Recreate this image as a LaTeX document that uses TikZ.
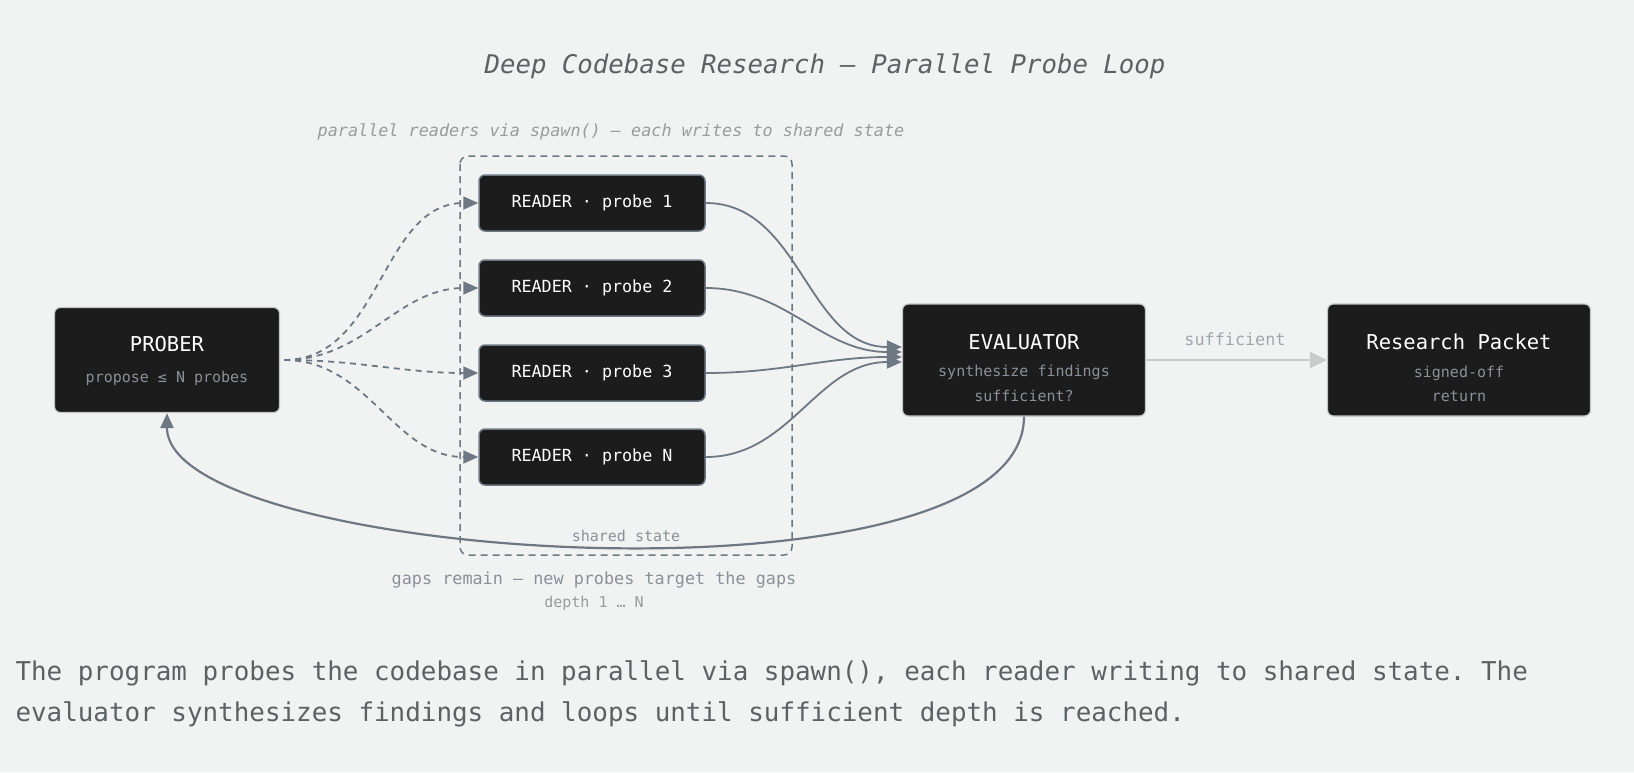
\documentclass[tikz,border=0pt]{standalone}
\usepackage{fontspec}
\setmonofont{DejaVu Sans Mono}
\usetikzlibrary{arrows.meta}
\definecolor{bgc}{HTML}{F1F3F2}
\definecolor{boxc}{HTML}{1C1C1C}
\definecolor{slate}{HTML}{6E7884}
\definecolor{subc}{HTML}{8A9099}
\definecolor{titlec}{HTML}{5E6162}
\definecolor{notec}{HTML}{999C9C}
\definecolor{paleline}{HTML}{C9CCCB}
\definecolor{boxedge}{HTML}{C3C6C6}

\tikzset{
  card/.style={draw=boxedge, line width=1.2pt, fill=boxc, rounded corners=6pt},
  reader/.style={draw=slate, line width=1.5pt, fill=boxc, rounded corners=6pt, minimum width=226, minimum height=56, text=white, font=\ttfamily\fontsize{16.7}{20}\selectfont},
  head/.style={text=white, font=\ttfamily\fontsize{20.5}{24}\selectfont},
  sub/.style={text=subc, font=\ttfamily\fontsize{15}{18}\selectfont},
  note/.style={text=notec, font=\ttfamily\fontsize{16.8}{20}\selectfont},
  probe/.style={draw=slate, line width=1.8pt, dash pattern=on 6pt off 5pt, -{Triangle[length=15pt,width=13pt]}},
  feed/.style={draw=slate, line width=1.8pt, -{Triangle[length=15pt,width=13pt]}}
}

\begin{document}
\begin{tikzpicture}[x=1pt,y=-1pt]
    \fill[bgc] (0,0) rectangle (1634,772);
    \useasboundingbox (0,0) rectangle (1634,772);

    \node[text=titlec, font=\ttfamily\itshape\fontsize{25.7}{30}\selectfont] (title) at (825,66) {Deep Codebase Research — Parallel Probe Loop};
    \node[note, font=\ttfamily\itshape\fontsize{16.8}{20}\selectfont] (groupnote) at (611,132) {parallel readers via spawn() — each writes to shared state};

    \draw[slate, line width=1.5pt, dash pattern=on 7pt off 5pt, rounded corners=8pt] (460,156) rectangle (792,555);

    \node[card, minimum width=225, minimum height=105] (prober) at (167,360) {};
    \node[head] (proberhead) at (167,344) {PROBER};
    \node[sub] (probersub) at (167,378) {propose ≤ N probes};

    \node[card, minimum width=243, minimum height=112] (evaluator) at (1024,360) {};
    \node[head] (evalhead) at (1024,342) {EVALUATOR};
    \node[sub] (evalsub) at (1024,372) {synthesize findings};
    \node[sub] (evalask) at (1024,396) {sufficient?};

    \node[card, minimum width=263, minimum height=112] (packet) at (1459,360) {};
    \node[head] (packethead) at (1459,342) {Research Packet};
    \node[sub] (packetsub) at (1459,373) {signed-off};
    \node[sub] (packetret) at (1459,396) {return};

    \foreach \i/\y/\t/\s in {1/203/1/13, 2/288/2/8, 3/373/3/3, 4/457/N/-2}
    {
    \node[reader] (r\i) at (592,\y) {READER · probe \t};
    \draw[probe] ([xshift=4pt]prober.east) to[out=0,in=180] (r\i.west);
    \draw[feed] (r\i.east) to[out=0,in=180] ([yshift=\s pt]evaluator.west);
    }

    \draw[paleline, line width=2.5pt, -{Triangle[length=17pt,width=16pt]}] (evaluator.east) -- (packet.west);
    \node[note, text=subc!80] (sufflbl) at (1235,339) {sufficient};

    \draw[feed, line width=2.2pt] (evaluator.south) .. controls +(0,200) and +(0,150) .. (prober.south);
    \node[sub] (statelbl) at (626,536) {shared state};

    \node[note, text=subc] (gapslbl) at (594,580) {gaps remain — new probes target the gaps};
    \node[sub, text=notec] (depthlbl) at (594,603) {depth 1 … N};

    \node[anchor=west, align=left, text=titlec, font=\ttfamily\fontsize{25.9}{41}\selectfont] (caption) at (12,694) {The program probes the codebase in parallel via spawn(), each reader writing to shared state. The\\evaluator synthesizes findings and loops until sufficient depth is reached.};
\end{tikzpicture}
\end{document}
